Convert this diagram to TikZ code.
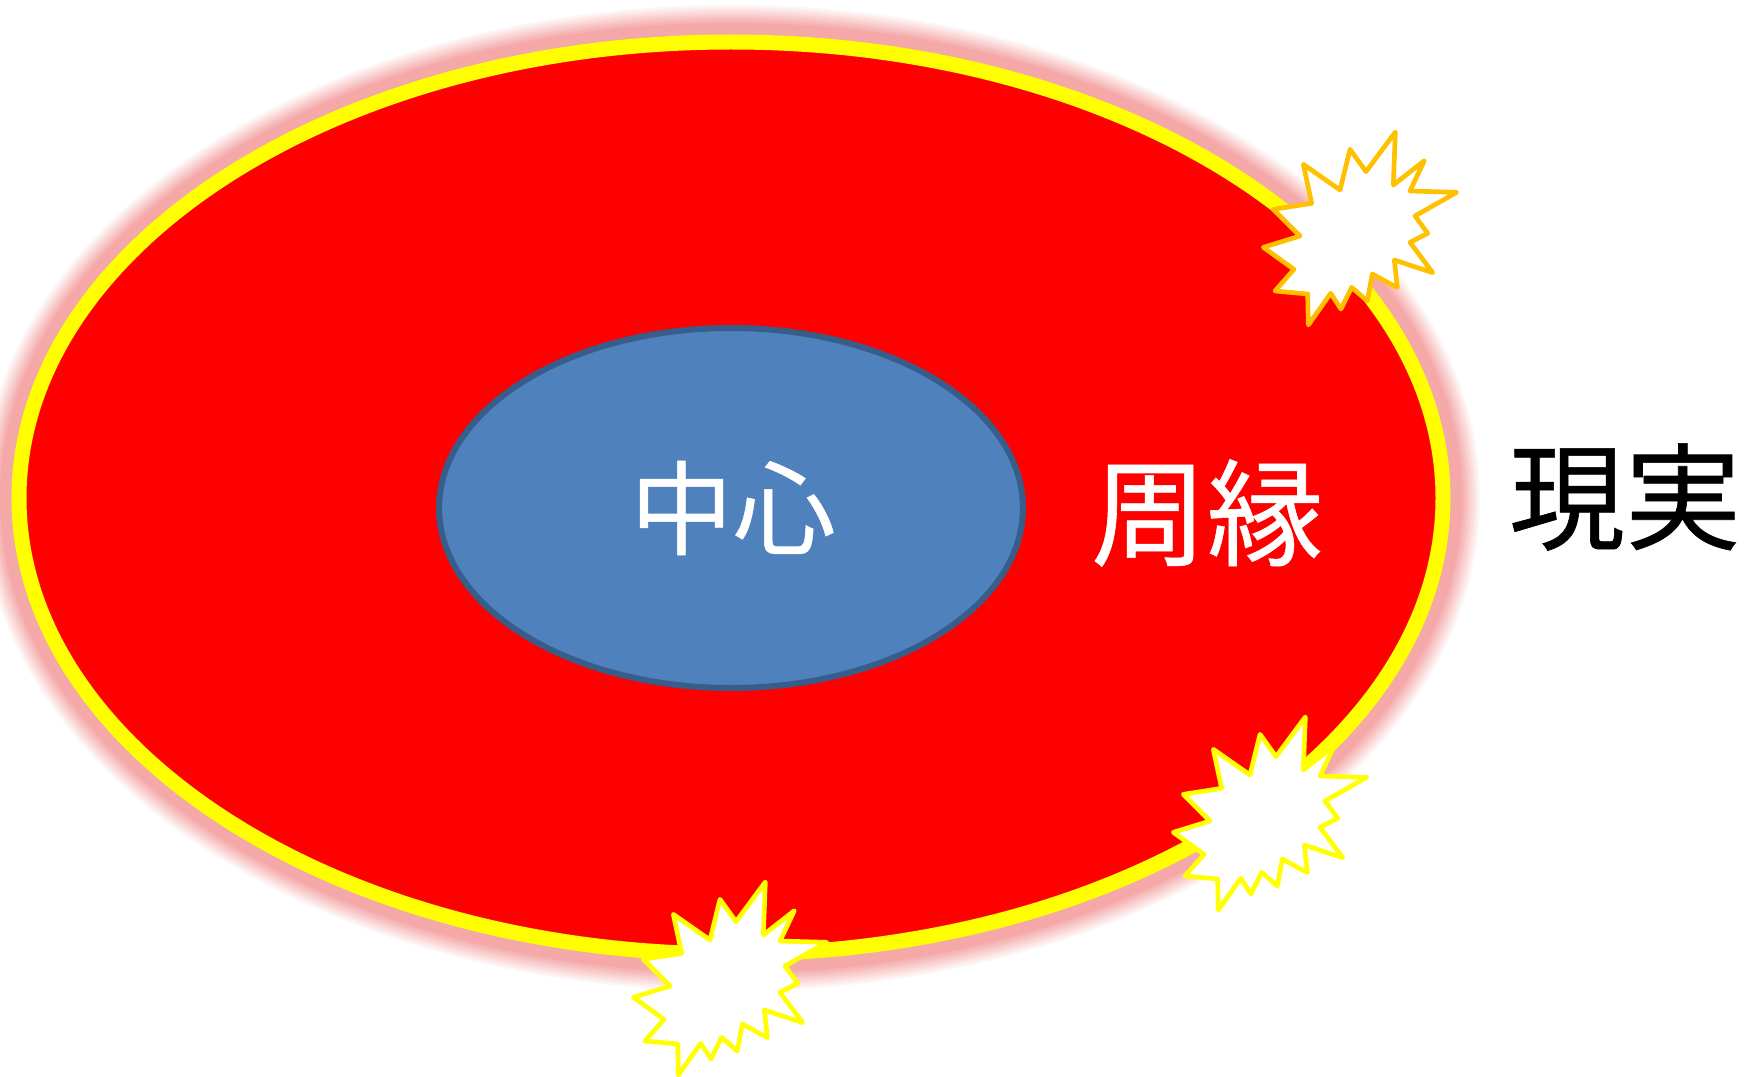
\documentclass[tikz,border=0pt]{standalone}
\usepackage{fontspec}
\usepackage{tikz}
\newfontfamily\cjk[FakeBold=0.5]{Noto Sans CJK JP}

\definecolor{glowpink}{RGB}{245,168,168}
\definecolor{coreblue}{RGB}{79,129,189}
\definecolor{coreline}{RGB}{56,93,138}
\definecolor{burstorange}{RGB}{255,192,0}
\definecolor{ringyellow}{RGB}{255,255,0}
\definecolor{pure red}{RGB}{255,0,0}

\tikzset{
  smalltext/.style={inner sep=0pt,font=\cjk\fontsize{77}{77}\selectfont},
  bigtext/.style={inner sep=0pt,font=\cjk\fontsize{87}{87}\selectfont},
  burst/.style={draw=ringyellow,fill=white,line width=3.5pt,line join=round},
}

\newcommand{\burstshape}{(466,66) -- (460,225) -- (553,152) -- (510,243) -- (650,247) -- (525,318) -- (563,370) -- (510,397) -- (578,488) -- (463,450) -- (472,533) -- (397,492) -- (382,573) -- (335,532) -- (303,597) -- (272,550) -- (205,645) -- (203,552) -- (105,543) -- (162,478) -- (70,412) -- (180,378) -- (100,298) -- (215,280) -- (190,163) -- (300,240) -- (330,118) -- (378,185) -- cycle}

\begin{document}
\begin{tikzpicture}[x=0.75pt,y=0.75pt,yscale=-1,xscale=1]
\useasboundingbox (0,0) rectangle (1753,1077);

%Glow
\foreach \rim in {32,30,...,0} {
  \pgfmathsetmacro{\mixval}{min(100,(32-\rim)*100/20)}
  \fill [glowpink!\mixval!white] (731,498) ellipse ({719+\rim} and {463+\rim});
}
%Outer ellipse
\draw [draw=ringyellow,fill=pure red,line width=11.25pt] (731,498) ellipse (712 and 456);
%Inner ellipse
\draw [draw=coreline,fill=coreblue,line width=4.5pt] (731,508) ellipse (292 and 180);

%Bursts
\begin{scope}[shift={(1240,110)},x=0.25pt,y=0.25pt]
\draw [burst,draw=burstorange] \burstshape;
\end{scope}
\begin{scope}[shift={(1150,695)},x=0.25pt,y=0.25pt]
\draw [burst] \burstshape;
\end{scope}
\begin{scope}[shift={(610,860)},x=0.25pt,y=0.25pt]
\draw [burst] \burstshape;
\end{scope}

% Text Node
\node (core) [smalltext,text=white] at (733,508) {中心};
% Text Node
\node (edge) [bigtext,text=white] at (1207,513) {周縁};
% Text Node
\node (real) [bigtext,text=black] at (1625,497) {現実};

\end{tikzpicture}
\end{document}
